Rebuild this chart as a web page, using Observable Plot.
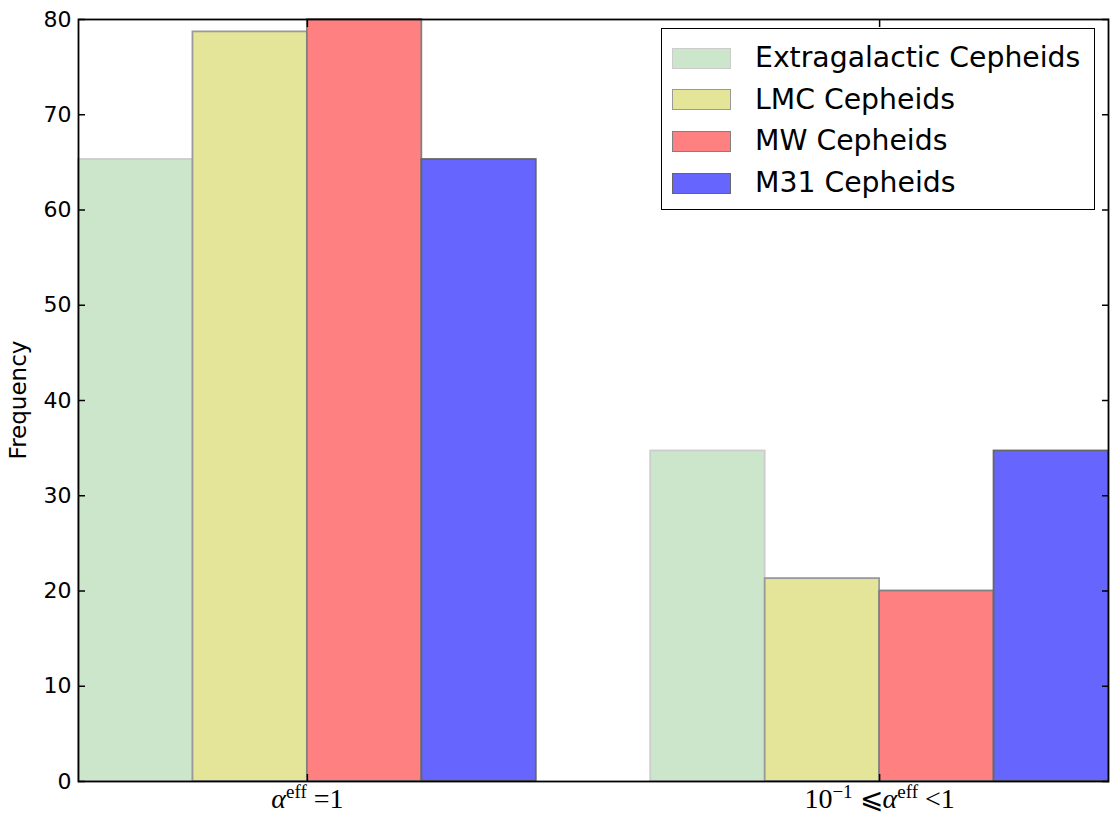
<!DOCTYPE html>
<html>
<head>
<meta charset="utf-8">
<script src="https://cdn.jsdelivr.net/npm/d3@7"></script>
<script src="https://cdn.jsdelivr.net/npm/@observablehq/plot@0.6"></script>
<style>
  body { margin: 0; background: #fff; }
  #wrap { position: relative; width: 1111px; height: 814px; overflow: hidden; }
  #legend { position: absolute; left: 661px; top: 28px; width: 434px; height: 182px;
    border: 1.8px solid #000; background: #fff; box-sizing: border-box;
    font-family: "DejaVu Sans", sans-serif; font-size: 28.3px; color: #000; }
  .row { position: absolute; left: 0; height: 30px; }
  .sw { position: absolute; left: 10px; width: 59px; height: 21px; box-sizing: border-box; border: 1.8px solid; }
  .lab { position: absolute; left: 93px; white-space: nowrap; line-height: 30px; }
</style>
</head>
<body>
<div id="wrap"><div id="chart"></div><div id="legend"></div></div>
<script>
// ---- data ----
const groups = ["alpha_eq_1", "alpha_between"];
const series = ["Extragalactic Cepheids", "LMC Cepheids", "MW Cepheids", "M31 Cepheids"];
const extragalactic = [65.3, 34.7];
const lmc = [78.7, 21.3];
const mw = [80.0, 20.0];
const m31 = [65.3, 34.7];
const yTicks = [0, 10, 20, 30, 40, 50, 60, 70, 80];

// ---- styles (matplotlib colours blended with alpha) ----
const fills = ["#cce6cc", "#e5e599", "#ff8080", "#6666ff"];
const strokes = ["#cccccc", "#999999", "#808080", "#666666"];
const barWidth = 0.2;

const valuesBySeries = [extragalactic, lmc, mw, m31];
const table = [];
series.forEach((s, si) => {
  groups.forEach((g, gi) => {
    table.push({series: s, si, group: g, gi, value: valuesBySeries[si][gi]});
  });
});

const groupCenters = groups.map((g, gi) => gi + barWidth * series.length / 2);

const chart = Plot.plot({
  width: 1111,
  height: 814,
  marginTop: 19,
  marginBottom: 33,
  marginLeft: 78,
  marginRight: 3,
  style: {fontFamily: "DejaVu Sans, sans-serif", fontSize: "22px", background: "#fff", color: "#000"},
  x: {domain: [0, 1 + barWidth * series.length], axis: null},
  y: {domain: [0, 80], axis: null},
  marks: [
    Plot.rect(table, {
      x1: d => d.gi + d.si * barWidth,
      x2: d => d.gi + (d.si + 1) * barWidth,
      y1: 0,
      y2: "value",
      fill: d => fills[d.si],
      stroke: d => strokes[d.si],
      strokeWidth: 1.8
    }),
    Plot.axisY(yTicks, {anchor: "left", tickSize: -7, tickPadding: 14, label: null, stroke: "#000", strokeWidth: 1.5}),
    Plot.axisY(yTicks, {anchor: "right", tickSize: -7, tickFormat: () => "", label: null, stroke: "#000", strokeWidth: 1.5}),
    Plot.axisX(groupCenters, {anchor: "bottom", tickSize: -7, tickPadding: 14, label: null, stroke: "#000", strokeWidth: 1.5,
      tickFormat: (d, i) => groups[i]}),
    Plot.axisX(groupCenters, {anchor: "top", tickSize: -7, tickFormat: () => "", label: null, stroke: "#000", strokeWidth: 1.5}),
    Plot.frame({stroke: "#000", strokeWidth: 1.8})
  ]
});
document.getElementById("chart").appendChild(chart);

// Math-style x tick labels (alpha^eff)
const svg = d3.select(chart);
const xLabelHTML = {
  alpha_eq_1: '<tspan font-style="italic">α</tspan><tspan dy="-10" font-size="19">eff</tspan><tspan dy="10"> =1</tspan>',
  alpha_between: '<tspan>10</tspan><tspan dy="-10" font-size="19">−1</tspan><tspan dy="10"> ⩽</tspan><tspan font-style="italic">α</tspan><tspan dy="-10" font-size="19">eff</tspan><tspan dy="10"> &lt;1</tspan>'
};
svg.selectAll("text").each(function() {
  const t = this.textContent;
  if (xLabelHTML[t]) {
    d3.select(this).attr("font-family", "Liberation Serif, DejaVu Serif, serif").attr("font-size", 28).html(xLabelHTML[t]);
  }
});

// y-axis title
svg.append("text")
  .attr("transform", "translate(26,400) rotate(-90)")
  .attr("text-anchor", "middle")
  .attr("font-family", "DejaVu Sans, sans-serif")
  .attr("font-size", 23)
  .attr("fill", "#000")
  .text("Frequency");

// legend
const legend = document.getElementById("legend");
series.forEach((s, i) => {
  const row = document.createElement("div");
  row.className = "row";
  row.style.top = (14 + i * 41.7) + "px";
  const sw = document.createElement("div");
  sw.className = "sw";
  sw.style.top = "4.5px";
  sw.style.background = fills[i];
  sw.style.borderColor = strokes[i];
  const lab = document.createElement("div");
  lab.className = "lab";
  lab.textContent = s;
  row.appendChild(sw);
  row.appendChild(lab);
  legend.appendChild(row);
});
</script>
</body>
</html>
